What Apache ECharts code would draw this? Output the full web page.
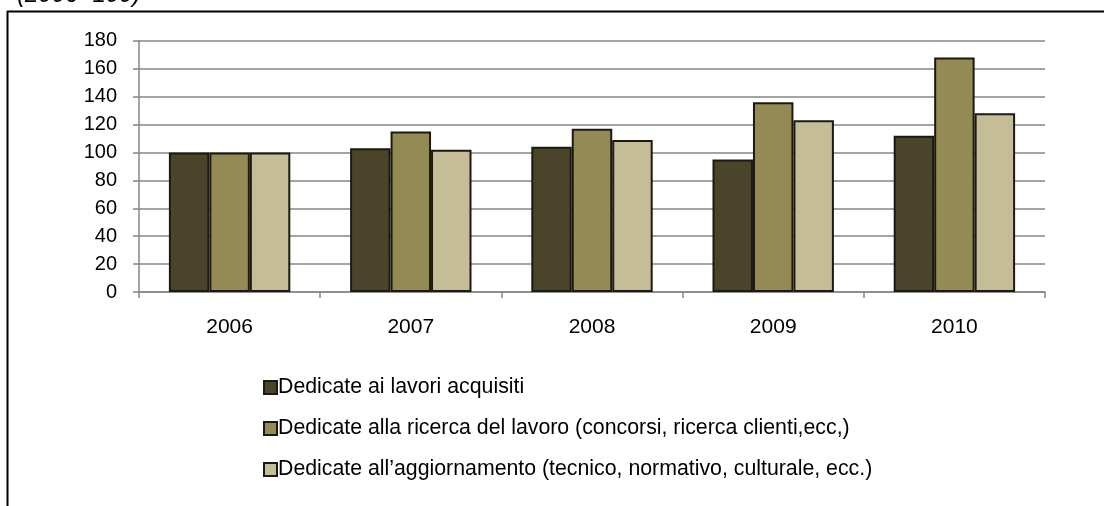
<!DOCTYPE html>
<html>
<head>
<meta charset="utf-8">
<script src="https://cdn.jsdelivr.net/npm/echarts@6/dist/echarts.min.js"></script>
<style>
html,body{margin:0;padding:0;background:#fff;}
#chart{width:1104px;height:506px;}
</style>
</head>
<body>
<div id="chart"></div>
<script>
var categories = ['2006', '2007', '2008', '2009', '2010'];
var seriesNames = [
  'Dedicate ai lavori acquisiti',
  'Dedicate alla ricerca del lavoro (concorsi, ricerca clienti,ecc,)',
  'Dedicate all\u2019aggiornamento (tecnico, normativo, culturale, ecc.)'
];
var lavoriAcquisiti = [100, 103, 104, 95, 112];
var ricercaLavoro = [100, 115, 117, 136, 168];
var aggiornamento = [100, 102, 109, 123, 128];
var yTicks = [0, 20, 40, 60, 80, 100, 120, 140, 160, 180];
var titleText = '(2006=100)';

var colors = ['#4a452a', '#948a54', '#c4bd97'];
var font = '"Liberation Sans", Arial, sans-serif';
var values = [lavoriAcquisiti, ricercaLavoro, aggiornamento];

var chart = echarts.init(document.getElementById('chart'));
chart.setOption({
  animation: false,
  backgroundColor: '#ffffff',
  grid: { left: 139, right: 59, top: 40.8, bottom: 214, containLabel: false },
  graphic: [
    { type: 'line', shape: { x1: 7, y1: 11.5, x2: 1110, y2: 11.5 }, style: { stroke: '#000', lineWidth: 2 } },
    { type: 'line', shape: { x1: 7.5, y1: 11, x2: 7.5, y2: 520 }, style: { stroke: '#000', lineWidth: 2 } },
    { type: 'text', left: 17, top: -17, style: { text: titleText, font: 'italic 24px ' + font, fill: '#000' } }
  ],
  legend: {
    orient: 'vertical',
    left: 258,
    top: 372,
    itemWidth: 13,
    itemHeight: 13,
    itemGap: 20,
    icon: 'rect',
    textStyle: { fontFamily: font, fontSize: 21.3, color: '#000', padding: [0, 0, 0, -4] },
    data: seriesNames
  },
  xAxis: {
    type: 'category',
    data: categories,
    axisLine: { lineStyle: { color: '#868686', width: 1.5 } },
    axisTick: { show: true, length: 6, lineStyle: { color: '#868686', width: 1.5 } },
    axisLabel: { fontFamily: font, fontSize: 21, color: '#000', margin: 25 }
  },
  yAxis: {
    type: 'value',
    min: 0,
    max: 180,
    interval: 20,
    axisLine: { show: true, lineStyle: { color: '#868686', width: 1.5 } },
    axisTick: { show: true, length: 6, lineStyle: { color: '#868686', width: 1.5 } },
    axisLabel: { fontFamily: font, fontSize: 20, color: '#000', margin: 22,
      formatter: function (v) { return yTicks.indexOf(v) >= 0 ? String(v) : ''; } },
    splitLine: { lineStyle: { color: '#868686', width: 1.5 } }
  },
  series: values.map(function (vals, i) {
    return {
      name: seriesNames[i],
      type: 'bar',
      data: vals,
      barGap: '0%',
      barCategoryGap: '33%',
      itemStyle: { color: colors[i], borderColor: '#1c1a10', borderWidth: 2 }
    };
  })
});
</script>
</body>
</html>
